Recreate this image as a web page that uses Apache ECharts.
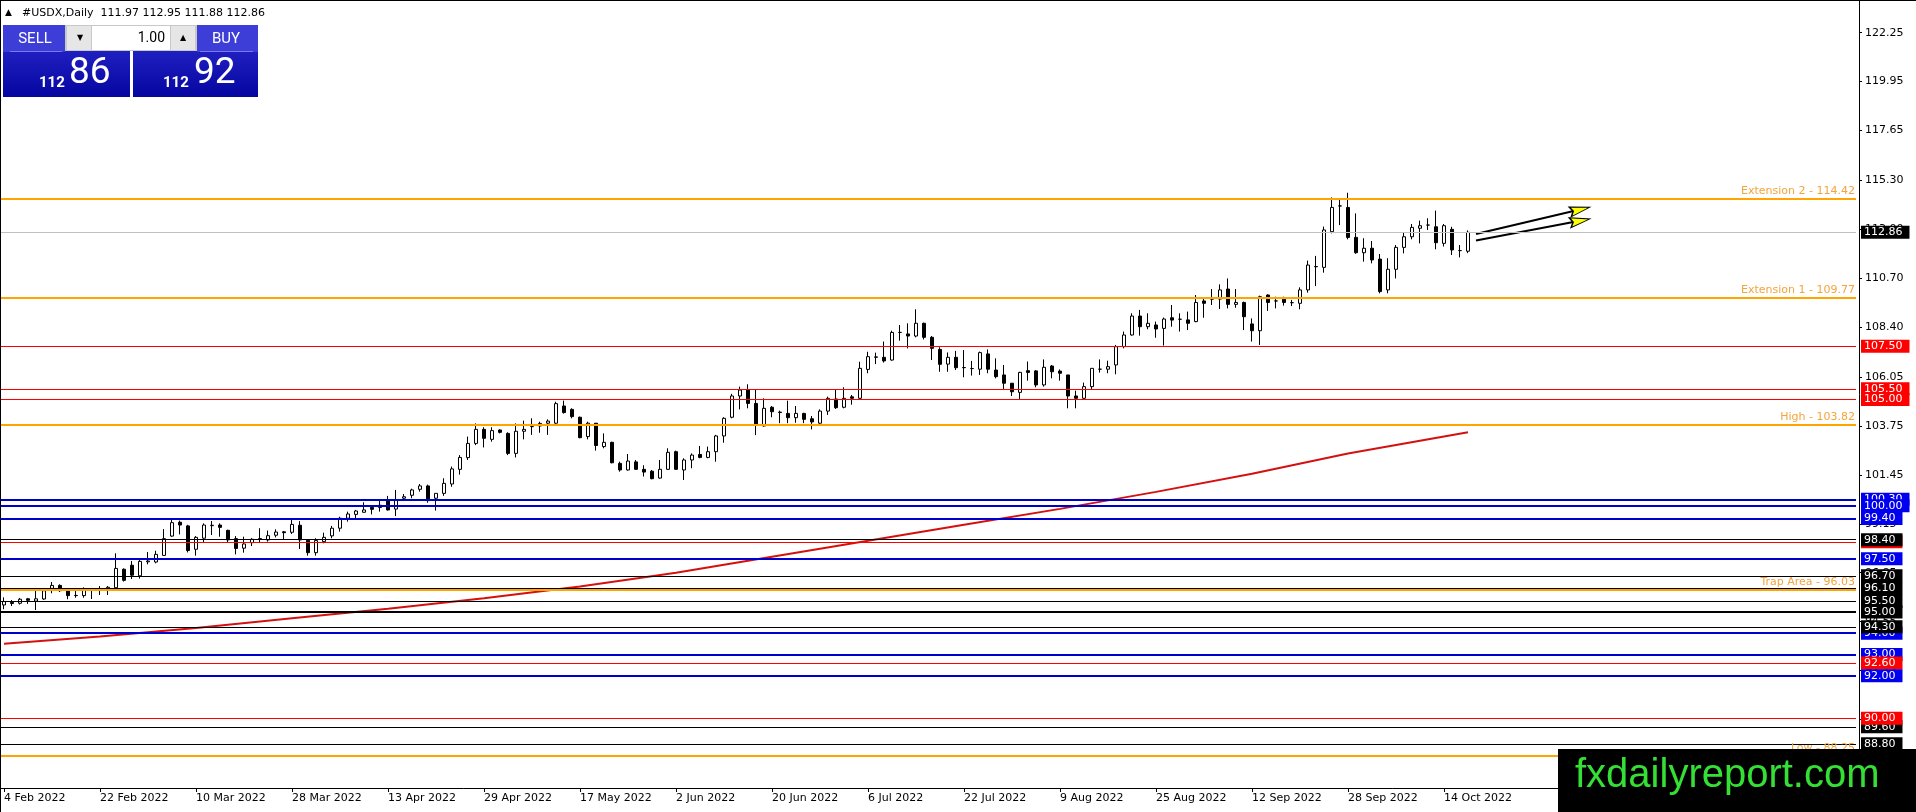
<!DOCTYPE html>
<html>
<head>
<meta charset="utf-8">
<title>#USDX,Daily</title>
<script src="https://cdn.jsdelivr.net/npm/echarts@6.0.0/dist/echarts.min.js"></script>
<style>
html, body { margin: 0; padding: 0; background: #fff; }
#chart { width: 1916px; height: 812px; }
</style>
</head>
<body>
<div id="chart"></div>
<script>
// date labels, one every 12 daily bars (first bar = 4 Feb 2022)
var dateLabels = ['4 Feb 2022', '22 Feb 2022', '10 Mar 2022', '28 Mar 2022', '13 Apr 2022', '29 Apr 2022',
    '17 May 2022', '2 Jun 2022', '20 Jun 2022', '6 Jul 2022', '22 Jul 2022', '9 Aug 2022',
    '25 Aug 2022', '12 Sep 2022', '28 Sep 2022', '14 Oct 2022'];

// daily OHLC
var opens = [95.33, 95.45, 95.41, 95.62, 95.51, 95.61, 96.11, 96.25, 96.00, 95.77, 95.77, 96.02,
    96.05, 96.10, 96.14, 97.01, 97.20, 96.70, 97.36, 97.35, 97.66, 98.57, 99.22, 99.05,
    97.95, 98.47, 99.06, 99.09, 98.84, 98.45, 98.00, 98.26, 98.43, 98.39, 98.61, 98.77,
    98.75, 99.08, 98.37, 97.79, 98.31, 98.58, 98.94, 99.41, 99.59, 99.69, 99.92, 100.02,
    100.27, 99.84, 100.35, 100.49, 100.77, 100.93, 100.35, 100.58, 101.02, 101.71, 102.26, 102.93,
    103.59, 103.12, 103.56, 103.40, 102.46, 103.50, 103.72, 103.75, 103.88, 103.88, 104.69, 104.53,
    104.16, 103.25, 103.88, 102.78, 102.98, 101.99, 101.68, 102.06, 101.71, 101.62, 101.30, 101.71,
    102.54, 101.68, 102.15, 102.41, 102.27, 102.54, 103.28, 104.16, 105.16, 105.44, 104.81, 103.75,
    104.63, 104.40, 104.34, 104.14, 104.34, 104.09, 103.88, 104.45, 105.02, 104.63, 105.12, 105.05,
    106.41, 106.98, 106.98, 106.85, 108.15, 108.08, 107.98, 108.58, 107.92, 107.35, 106.66, 106.98,
    106.50, 106.45, 106.42, 107.14, 106.38, 106.15, 105.76, 105.33, 106.35, 106.34, 105.68, 106.57,
    106.33, 106.15, 105.16, 105.05, 105.60, 106.42, 106.42, 106.62, 107.48, 108.03, 108.92, 108.42,
    108.50, 108.34, 108.84, 108.77, 108.74, 108.66, 109.63, 109.72, 109.72, 110.19, 109.47, 109.56,
    108.55, 108.23, 109.91, 109.63, 109.71, 109.55, 109.52, 110.15, 111.25, 111.21, 112.89, 114.10,
    114.03, 112.62, 111.90, 112.11, 111.60, 110.15, 111.12, 112.15, 112.65, 113.05, 113.20, 113.12,
    112.34, 113.00, 112.00, 111.97];
var closes = [95.49, 95.40, 95.60, 95.55, 95.62, 96.00, 96.25, 96.00, 95.77, 95.78, 96.04, 96.02,
    96.07, 96.16, 97.05, 96.49, 96.73, 97.38, 97.40, 97.71, 98.45, 99.20, 99.09, 97.89,
    98.51, 99.09, 99.08, 98.98, 98.39, 97.99, 98.20, 98.42, 98.45, 98.59, 98.76, 98.73,
    99.12, 98.39, 97.79, 98.36, 98.51, 98.94, 99.41, 99.61, 99.75, 99.80, 99.83, 99.92,
    99.80, 100.27, 100.42, 100.74, 100.93, 100.24, 100.58, 101.05, 101.73, 102.27, 102.93, 103.59,
    103.17, 103.53, 103.45, 102.46, 103.50, 103.59, 103.72, 103.87, 103.98, 104.80, 104.38, 104.19,
    103.20, 103.88, 102.83, 102.98, 102.02, 101.68, 102.10, 101.71, 101.58, 101.27, 101.71, 102.51,
    101.71, 102.15, 102.38, 102.27, 102.54, 103.28, 104.11, 105.16, 105.44, 104.81, 103.84, 104.58,
    104.42, 104.38, 104.14, 104.34, 104.06, 103.94, 104.45, 105.05, 104.61, 105.05, 105.05, 106.46,
    107.01, 107.00, 106.81, 108.15, 108.15, 107.98, 108.58, 107.92, 107.40, 106.65, 106.98, 106.49,
    106.49, 106.45, 107.20, 106.42, 106.07, 105.76, 105.36, 106.27, 106.27, 105.68, 106.51, 106.30,
    106.23, 105.16, 105.05, 105.60, 106.46, 106.42, 106.54, 107.48, 108.03, 108.92, 108.42, 108.58,
    108.31, 108.78, 108.73, 108.77, 108.58, 109.56, 109.52, 109.72, 110.15, 109.47, 109.56, 108.89,
    108.23, 109.83, 109.56, 109.63, 109.56, 109.55, 110.15, 111.32, 111.24, 112.97, 114.03, 114.10,
    112.62, 111.90, 112.11, 111.56, 110.07, 111.12, 112.15, 112.65, 113.09, 113.17, 113.20, 112.37,
    113.17, 112.03, 112.00, 112.86];
var lows = [95.13, 95.28, 95.35, 95.38, 95.09, 95.57, 95.88, 95.94, 95.60, 95.67, 95.67, 95.61,
    95.80, 95.80, 96.07, 96.43, 96.55, 96.57, 97.24, 97.29, 97.66, 98.54, 98.65, 97.80,
    97.65, 98.26, 98.62, 98.54, 98.26, 97.71, 97.79, 98.10, 98.28, 98.31, 98.51, 98.39,
    98.67, 97.96, 97.65, 97.65, 98.23, 98.47, 98.78, 99.25, 99.36, 99.67, 99.59, 99.72,
    99.77, 99.51, 100.27, 100.35, 100.66, 100.14, 99.77, 100.46, 100.89, 101.46, 102.15, 102.85,
    102.74, 103.01, 103.40, 102.38, 102.27, 103.12, 103.33, 103.43, 103.33, 103.80, 104.33, 104.11,
    103.17, 103.12, 102.59, 102.70, 101.99, 101.60, 101.65, 101.68, 101.37, 101.24, 101.27, 101.68,
    101.68, 101.21, 101.76, 102.23, 102.23, 102.07, 102.96, 104.11, 104.53, 104.58, 103.32, 103.72,
    104.16, 103.88, 103.88, 103.90, 103.88, 103.59, 103.80, 104.27, 104.55, 104.58, 104.75, 104.97,
    106.23, 106.66, 106.73, 106.82, 107.76, 107.40, 107.92, 107.82, 106.85, 106.30, 106.30, 106.38,
    106.04, 106.12, 106.15, 106.23, 105.99, 105.49, 105.16, 104.97, 105.88, 105.57, 105.60, 105.99,
    105.88, 104.58, 104.58, 105.00, 105.49, 106.26, 106.23, 106.18, 107.40, 108.00, 108.00, 108.30,
    107.90, 107.53, 108.42, 108.19, 108.26, 108.63, 108.84, 109.44, 109.25, 109.28, 109.31, 108.26,
    107.72, 107.56, 109.16, 109.28, 109.41, 109.39, 109.24, 110.02, 110.33, 110.96, 112.81, 113.20,
    112.53, 111.85, 111.48, 111.40, 109.99, 109.99, 110.69, 111.87, 112.53, 112.34, 112.97, 112.06,
    112.19, 111.79, 111.68, 111.88];
var highs = [95.69, 95.56, 95.66, 95.66, 96.00, 96.07, 96.41, 96.30, 96.04, 96.00, 96.16, 96.04,
    96.22, 96.22, 97.76, 97.05, 97.40, 97.45, 97.82, 97.88, 98.90, 99.37, 99.30, 99.10,
    98.57, 99.17, 99.28, 99.17, 98.87, 98.57, 98.54, 98.47, 98.94, 98.83, 98.89, 98.81,
    99.33, 99.27, 98.39, 98.47, 98.73, 99.05, 99.48, 99.72, 99.80, 100.16, 99.95, 100.30,
    100.46, 100.74, 100.55, 100.80, 101.02, 100.99, 100.58, 101.29, 101.84, 102.38, 103.25, 103.87,
    103.69, 103.69, 103.59, 103.45, 103.87, 104.00, 104.11, 103.95, 104.06, 104.89, 104.94, 104.58,
    104.19, 103.95, 103.88, 103.40, 103.01, 102.07, 102.43, 102.15, 101.90, 101.68, 102.15, 102.70,
    102.59, 102.23, 102.46, 102.81, 102.78, 103.33, 104.16, 105.26, 105.60, 105.71, 105.47, 105.05,
    104.69, 104.47, 104.94, 104.69, 104.37, 104.22, 104.53, 105.13, 105.44, 105.57, 105.21, 106.77,
    107.24, 107.20, 107.72, 108.23, 108.50, 108.58, 109.24, 108.61, 107.98, 107.45, 107.21, 107.28,
    107.32, 106.81, 107.25, 107.35, 106.93, 106.62, 105.76, 106.30, 106.78, 106.38, 106.88, 106.62,
    106.41, 106.15, 105.41, 105.79, 106.46, 106.88, 106.82, 107.56, 108.19, 109.05, 109.21, 109.05,
    108.66, 108.85, 109.44, 109.05, 109.13, 109.91, 109.75, 110.19, 110.41, 110.69, 110.19, 109.60,
    108.81, 109.88, 109.94, 109.83, 109.83, 109.68, 110.27, 111.53, 111.75, 113.13, 114.50, 114.38,
    114.72, 113.75, 112.58, 112.45, 111.84, 111.64, 112.26, 112.84, 113.25, 113.41, 113.52, 113.88,
    113.25, 113.12, 112.26, 112.95];

// red moving average, read at every 12th bar
var maBars = [0, 12, 24, 36, 48, 60, 72, 84, 96, 108, 120, 132, 144, 156, 168, 183];
var maValues = [93.50, 93.85, 94.25, 94.70, 95.15, 95.65, 96.20, 96.85, 97.60, 98.35, 99.10, 99.85,
    100.65, 101.50, 102.45, 103.45];

// horizontal levels, in drawing order
var levelValues = [112.86, 114.42, 109.77, 107.50, 105.50, 105.00, 103.82, 100.30, 100.00, 99.40, 98.30,
    98.40, 97.50, 96.70, 96.10, 96.03, 95.50, 95.00, 94.00, 94.30, 93.00, 92.60, 92.00, 89.60, 90.00,
    88.80, 88.25];
var levelKinds = ['price', 'orange', 'orange', 'red', 'red', 'red', 'orange', 'blue', 'blue', 'blue', 'red',
    'black', 'blue', 'black', 'black', 'orange', 'black', 'black2', 'blue', 'black', 'blue', 'red', 'blue', 'black', 'red',
    'black', 'orange'];
var levelTexts = ['', 'Extension 2', 'Extension 1', '', '', '', 'High', '', '', '', '',
    '', '', '', '', 'Trap Area', '', '', '', '', '', '', '', '', '',
    '', 'Low'];

// y axis tick labels
var yTicks = [122.25, 119.95, 117.65, 115.30, 113.00, 110.70, 108.40, 106.05, 103.75, 101.45, 99.15,
    96.85, 94.55, 92.25, 89.95, 87.65];

// header quote
var quote = { open: 111.97, high: 112.95, low: 111.88, close: 112.86, bid: '86', ask: '92', big: '112', lot: '1.00' };

var SLOTS = 232;          // bar slots across the plot, the last ones are empty (future)
var FONT = 'DejaVu Sans';

var kindStyle = {
    price: { line: '#c0c0c0', width: 1, box: '#000000' },
    orange: { line: '#ffa500', width: 2 },
    red: { line: '#ff0000', width: 1, box: '#ff0000' },
    blue: { line: '#0000cd', width: 2, box: '#0000ee' },
    black: { line: '#000000', width: 1, box: '#000000' },
    black2: { line: '#000000', width: 2, box: '#000000' }
};

var categories = [];
for (var i = 0; i < SLOTS; i++) {
    categories.push('b' + i);
}

var candleData = opens.map(function (o, k) {
    return [o, closes[k], lows[k], highs[k]];
});

var maData = maBars.map(function (b, k) {
    return [b, maValues[k]];
});

function showDate(index) {
    return index % 12 === 0 && index / 12 < dateLabels.length;
}

var levelLines = levelValues.map(function (v, k) {
    var st = kindStyle[levelKinds[k]];
    var item = {
        yAxis: v,
        lineStyle: { color: st.line, width: st.width, type: 'solid' }
    };
    if (levelKinds[k] === 'orange') {
        item.label = {
            show: true,
            position: 'insideEndTop',
            distance: [1, 2],
            formatter: levelTexts[k] + ' - ' + v.toFixed(2),
            color: '#f4a43a',
            fontFamily: FONT,
            fontSize: 11
        };
    } else {
        item.label = {
            show: true,
            position: 'end',
            distance: 5,
            formatter: v.toFixed(2),
            color: '#ffffff',
            backgroundColor: st.box,
            padding: [1, 7, 0, 3],
            lineHeight: 12,
            fontFamily: FONT,
            fontSize: 11
        };
    }
    return item;
});

var chart = echarts.init(document.getElementById('chart'));

var option = {
    backgroundColor: '#ffffff',
    animation: false,
    grid: { left: 0, right: 60, top: 1, bottom: 24, containLabel: false },
    xAxis: {
        type: 'category',
        data: categories,
        boundaryGap: true,
        axisLine: { show: true, lineStyle: { color: '#000', width: 1 } },
        axisTick: {
            show: true, alignWithLabel: true, length: 4,
            interval: function (index) { return showDate(index); },
            lineStyle: { color: '#000' }
        },
        axisLabel: {
            show: true,
            interval: function (index) { return showDate(index); },
            formatter: function (value, index) { return dateLabels[index / 12] || ''; },
            align: 'left',
            margin: 5,
            color: '#000',
            fontFamily: FONT,
            fontSize: 11
        },
        splitLine: { show: false }
    },
    yAxis: {
        type: 'value',
        position: 'right',
        offset: 3,
        min: 86.72,
        max: 123.74,
        scale: true,
        axisLine: { show: true, lineStyle: { color: '#000', width: 1 } },
        axisTick: { show: true, length: 3, customValues: yTicks, lineStyle: { color: '#000' } },
        axisLabel: {
            show: true,
            customValues: yTicks,
            formatter: function (v) { return v.toFixed(2); },
            margin: 6,
            color: '#000',
            fontFamily: FONT,
            fontSize: 11
        },
        splitLine: { show: false }
    },
    series: [
        {
            name: 'MA',
            type: 'line',
            data: maData,
            symbol: 'none',
            smooth: false,
            lineStyle: { color: '#d41010', width: 2 },
            z: 1,
            // the two hand-drawn arrows
            markLine: {
                silent: true,
                symbol: ['none', 'none'],
                label: { show: false },
                lineStyle: { color: '#000', width: 2, type: 'solid' },
                data: [
                    [{ coord: [184, 112.78] }, { coord: [197, 113.93] }],
                    [{ coord: [184, 112.47] }, { coord: [197, 113.40] }]
                ]
            },
            markPoint: {
                silent: true,
                symbol: 'path://M0,0L20,5L0,10L3,5Z',
                symbolSize: [20, 10],
                label: { show: false },
                itemStyle: { color: '#ffff00', borderColor: '#000', borderWidth: 1.2 },
                data: [
                    { coord: [197, 113.93], symbolRotate: 13.4 },
                    { coord: [197, 113.40], symbolRotate: 10.7 }
                ]
            }
        },
        {
            name: '#USDX',
            type: 'candlestick',
            data: candleData,
            barWidth: 4,
            z: 3,
            itemStyle: {
                color: '#ffffff',
                color0: '#000000',
                borderColor: '#000000',
                borderColor0: '#000000',
                borderColorDoji: '#000000',
                borderWidth: 1
            },
            markLine: {
                silent: true,
                symbol: ['none', 'none'],
                precision: 2,
                data: levelLines
            }
        }
    ],
    graphic: [
        // frame
        { type: 'line', silent: true, z: 50, shape: { x1: 0, y1: 0.5, x2: 1916, y2: 0.5 }, style: { stroke: '#000', lineWidth: 1 } },
        { type: 'line', silent: true, z: 50, shape: { x1: 0.5, y1: 0, x2: 0.5, y2: 812 }, style: { stroke: '#000', lineWidth: 1 } },
        // header
        { type: 'text', silent: true, z: 60, style: { x: 5, y: 13, text: '▲', font: '9px DejaVu Sans', fill: '#000', textVerticalAlign: 'middle', verticalAlign: 'middle' } },
        {
            type: 'text', silent: true, z: 60,
            style: {
                x: 22, y: 13,
                text: '#USDX,Daily  ' + quote.open.toFixed(2) + ' ' + quote.high.toFixed(2) + ' ' + quote.low.toFixed(2) + ' ' + quote.close.toFixed(2),
                font: '11px DejaVu Sans', fill: '#000', textVerticalAlign: 'middle', verticalAlign: 'middle'
            }
        },
        // sell / buy panel
        {
            type: 'rect', silent: true, z: 60, shape: { x: 3, y: 25, width: 127, height: 72 },
            style: { fill: new echarts.graphic.LinearGradient(0, 0, 0, 1, [{ offset: 0, color: '#2f2fd4' }, { offset: 1, color: '#0505a0' }]) }
        },
        {
            type: 'rect', silent: true, z: 60, shape: { x: 133, y: 25, width: 125, height: 72 },
            style: { fill: new echarts.graphic.LinearGradient(0, 0, 0, 1, [{ offset: 0, color: '#2f2fd4' }, { offset: 1, color: '#0505a0' }]) }
        },
        { type: 'rect', silent: true, z: 61, shape: { x: 3, y: 25, width: 62, height: 27 }, style: { fill: '#3d3dd8' } },
        { type: 'rect', silent: true, z: 61, shape: { x: 197, y: 25, width: 61, height: 27 }, style: { fill: '#3d3dd8' } },
        { type: 'line', silent: true, z: 62, shape: { x1: 10, y1: 51.5, x2: 62, y2: 51.5 }, style: { stroke: '#7a7aee', lineWidth: 1 } },
        { type: 'line', silent: true, z: 62, shape: { x1: 200, y1: 51.5, x2: 253, y2: 51.5 }, style: { stroke: '#7a7aee', lineWidth: 1 } },
        // lot control
        { type: 'rect', silent: true, z: 61, shape: { x: 65, y: 25, width: 132, height: 26 }, style: { fill: '#c8c8c8' } },
        { type: 'rect', silent: true, z: 62, shape: { x: 67, y: 26, width: 24, height: 24 }, style: { fill: '#e6e6e6' } },
        { type: 'rect', silent: true, z: 62, shape: { x: 92, y: 26, width: 78, height: 24 }, style: { fill: '#ffffff' } },
        { type: 'rect', silent: true, z: 62, shape: { x: 171, y: 26, width: 24, height: 24 }, style: { fill: '#e6e6e6' } },
        { type: 'text', silent: true, z: 63, style: { x: 80, y: 38, text: '▼', font: '8px DejaVu Sans', fill: '#000', textAlign: 'center', align: 'center', textVerticalAlign: 'middle', verticalAlign: 'middle' } },
        { type: 'text', silent: true, z: 63, style: { x: 183, y: 38, text: '▲', font: '8px DejaVu Sans', fill: '#000', textAlign: 'center', align: 'center', textVerticalAlign: 'middle', verticalAlign: 'middle' } },
        { type: 'text', silent: true, z: 63, style: { x: 165, y: 38, text: quote.lot, font: '14px Roboto', fill: '#000', textAlign: 'right', align: 'right', textVerticalAlign: 'middle', verticalAlign: 'middle' } },
        { type: 'text', silent: true, z: 63, style: { x: 35, y: 39, text: 'SELL', font: '15px Roboto', fill: '#fff', textAlign: 'center', align: 'center', textVerticalAlign: 'middle', verticalAlign: 'middle' } },
        { type: 'text', silent: true, z: 63, style: { x: 226, y: 39, text: 'BUY', font: '15px Roboto', fill: '#fff', textAlign: 'center', align: 'center', textVerticalAlign: 'middle', verticalAlign: 'middle' } },
        { type: 'text', silent: true, z: 63, style: { x: 39, y: 83, text: quote.big, font: 'bold 15px Roboto', fill: '#fff', textVerticalAlign: 'middle', verticalAlign: 'middle' } },
        { type: 'text', silent: true, z: 63, style: { x: 69, y: 74, text: quote.bid, font: '37px Roboto', fill: '#fff', textVerticalAlign: 'middle', verticalAlign: 'middle' } },
        { type: 'text', silent: true, z: 63, style: { x: 163, y: 83, text: quote.big, font: 'bold 15px Roboto', fill: '#fff', textVerticalAlign: 'middle', verticalAlign: 'middle' } },
        { type: 'text', silent: true, z: 63, style: { x: 194, y: 74, text: quote.ask, font: '37px Roboto', fill: '#fff', textVerticalAlign: 'middle', verticalAlign: 'middle' } },
        // watermark
        { type: 'rect', silent: true, z: 80, shape: { x: 1558, y: 749, width: 358, height: 63 }, style: { fill: '#000' } },
        { type: 'text', silent: true, z: 81, style: { x: 1575, y: 776, text: 'fxdailyreport.com', font: '40px Liberation Sans', fill: '#35e035', textVerticalAlign: 'middle', verticalAlign: 'middle' } }
    ]
};

chart.setOption(option);
</script>
</body>
</html>
